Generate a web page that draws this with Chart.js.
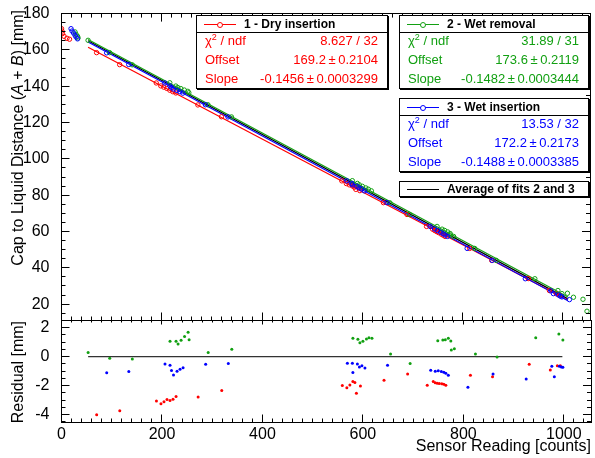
<!DOCTYPE html>
<html>
<head>
<meta charset="utf-8">
<script src="https://cdn.jsdelivr.net/npm/chart.js@4.4.1/dist/chart.umd.min.js"></script>
<style>
  body { margin: 0; background: #fff; }
  #wrap { position: relative; width: 595px; height: 458px; overflow: hidden; font-family: "Liberation Sans", Arial, sans-serif; }
  #wrap canvas { position: absolute; left: 0; top: 0; }
  .ytitle { position: absolute; font-size: 16px; line-height: 16px; white-space: nowrap; transform-origin: 0 0; transform: rotate(-90deg) translate(-100%, -50%); }
  .box { position: absolute; background: #fff; border: 1px solid #000; box-shadow: 1px 1px 0 #000; box-sizing: border-box; }
  .head { position: absolute; left: 0; right: 0; top: 0; height: 16px; line-height: 16px; font-weight: bold; font-size: 12px; color: #000; }
  .sep { border-bottom: 1px solid #000; }
  .head .txt { position: absolute; left: 47px; top: 0; white-space: nowrap; }
  .smp { position: absolute; left: 7px; width: 32px; top: 8px; height: 0; border-top: 1px solid; }
  .dot { position: absolute; left: 13px; top: -3.5px; width: 4px; height: 4px; border: 1px solid; border-radius: 50%; background: #fff; }
  .row { position: absolute; left: 8px; right: 9px; height: 18px; line-height: 18px; font-size: 13px; white-space: nowrap; }
  .row .v { position: absolute; right: 0; top: 0; }
  sup { font-size: 9px; vertical-align: 5px; line-height: 0; }
</style>
</head>
<body>
<div id="wrap">
  <canvas id="top" width="595" height="458"></canvas>
  <canvas id="res" width="595" height="458"></canvas>
  <div class="ytitle" style="left:18px; top:10px;">Cap to Liquid Distance (<i>A</i> + <i>B</i>) [mm]</div>
  <div class="ytitle" style="left:18px; top:321px;">Residual [mm]</div>
  <div id="legends"></div>
</div>
<script>
// ---- data ----
var xTicks = [0, 200, 400, 600, 800, 1000];
var yTicks = [20, 40, 60, 80, 100, 120, 140, 160, 180];
var resTicks = [-4, -2, 0, 2];

var seriesNames = ['1 - Dry insertion', '2 - Wet removal', '3 - Wet insertion'];
var seriesColors = ['#ff0000', '#12a012', '#0000ff'];
var chi2 = ['8.627 / 32', '31.89 / 31', '13.53 / 32'];
var offsetTxt = ['169.2\u2009±\u20090.2104', '173.6\u2009±\u20090.2119', '172.2\u2009±\u20090.2173'];
var slopeTxt = ['-0.1456\u2009±\u20090.0003299', '-0.1482\u2009±\u20090.0003444', '-0.1488\u2009±\u20090.0003385'];
var fitOffset = [169.2, 173.6, 172.2];
var fitSlope = [-0.1456, -0.1482, -0.1488];
var fitRange = [53, 1010];
var resLineRange = [53, 997];

// 1 - dry insertion (fitted points)
var redX = [70, 116, 189, 198, 204, 210, 216, 222, 228, 272, 319, 559, 568, 574, 580, 584, 587, 595, 642, 689,
  728, 740, 744, 748, 752, 757, 761, 765, 814, 858, 931, 973, 987, 993];
var redY = [158.5, 151.9, 141.8, 140.2, 139.5, 138.8, 137.8, 137.0, 136.3, 129.7, 123.2, 87.9, 86.4, 85.7, 85.1, 84.4, 83.2, 82.5, 75.9, 69.4,
  62.8, 61.3, 60.6, 60.0, 59.4, 58.6, 58.0, 57.3, 50.7, 44.1, 34.1, 27.5, 25.7, 24.8];
var redRes = [-4.02, -3.74, -3.06, -3.26, -3.12, -2.96, -3.03, -2.94, -2.76, -2.78, -2.34, -2.0, -2.14, -1.95, -1.72, -1.79, -2.53, -2.02, -1.63, -1.19,
  -1.97, -1.72, -1.81, -1.84, -1.86, -1.88, -1.9, -1.97, -1.29, -1.38, -0.52, -0.92, -0.62, -0.62];
var redOutX = [0, 1, 2, 5, 11, 16];
var redOutY = [171.7, 170.4, 169.0, 167.5, 166.4, 165.9];

// 2 - wet removal
var greenX = [53, 96, 141, 216, 228, 232, 238, 245, 252, 254, 292, 339, 580, 590, 594, 600, 607, 612, 618, 655,
  694, 749, 759, 764, 770, 775, 776, 782, 824, 867, 944, 990, 998];
var greenY = [165.3, 158.5, 151.8, 141.9, 140.1, 139.3, 138.7, 137.9, 137.2, 136.4, 129.8, 123.1, 88.0, 86.5, 85.7, 84.9, 84.0, 83.3, 82.4, 75.8,
  69.4, 62.8, 61.3, 60.6, 59.8, 58.9, 58.1, 57.3, 50.7, 44.1, 34.0, 27.5, 25.8];
var greenRes = [0.28, -0.11, -0.16, 1.06, 1.06, 0.88, 1.13, 1.4, 1.68, 1.17, 0.28, 0.51, 1.27, 1.2, 0.97, 1.06, 1.22, 1.31, 1.27, 0.19,
  -0.48, 1.1, 1.15, 1.17, 1.27, 1.08, 0.46, 0.55, 0.19, -0.02, 1.31, 1.57, 1.15];
var greenOutX = [27, 29, 32, 33, 1009, 1021, 1040, 1048];
var greenOutY = [169.9, 168.6, 167.5, 166.6, 26.0, 23.8, 22.7, 16.1];

// 3 - wet insertion
var blueX = [90, 134, 206, 216, 219, 223, 230, 236, 242, 287, 332, 569, 579, 580, 589, 593, 598, 604, 649, 735,
  744, 750, 756, 761, 765, 770, 809, 859, 925, 976, 981, 991, 995, 998];
var blueY = [158.4, 152.0, 141.8, 140.2, 139.4, 138.5, 137.7, 137.0, 136.2, 129.8, 123.1, 87.9, 86.5, 85.7, 84.9, 84.1, 83.5, 82.4, 75.9, 62.8,
  61.4, 60.5, 59.6, 58.8, 58.1, 57.3, 50.7, 44.1, 34.0, 27.3, 25.8, 25.1, 24.4, 24.0];
var blueRes = [-1.12, -1.03, -0.5, -0.6, -0.96, -1.26, -1.0, -0.87, -0.76, -0.52, -0.48, -0.46, -0.46, -1.1, -0.5, -0.71, -0.62, -0.78, -0.6, -0.94,
  -1.0, -0.98, -1.03, -1.08, -1.15, -1.29, -2.11, -1.19, -1.54, -0.66, -1.38, -0.66, -0.71, -0.73];
var blueOutX = [19, 21, 24, 27, 29, 32, 1013];
var blueOutY = [171.7, 170.4, 169.3, 168.1, 167.1, 166.1, 22.5];

var FONT = '"Liberation Sans", Arial, sans-serif';
Chart.defaults.font.family = FONT;
Chart.defaults.color = '#000';

function pts(xs, ys) {
  var out = [];
  for (var i = 0; i < xs.length; i++) out.push({x: xs[i], y: ys[i]});
  return out;
}

function fitLine(off, slope, range) {
  return range.map(function (x) { return {x: x, y: off + slope * x}; });
}

function eachTick(min, max, minor, major, cb) {
  var v = Math.ceil(min / minor - 1e-9) * minor;
  for (; v <= max + 1e-9; v += minor) {
    var r = v / major;
    cb(v, Math.abs(r - Math.round(r)) < 1e-6);
  }
}

// ROOT style frame with inward ticks on all four sides
var rootFrame = {
  id: 'rootFrame',
  afterDatasetsDraw: function (chart, args, o) {
    var ctx = chart.ctx, a = chart.chartArea;
    var sx = chart.scales.x, sy = chart.scales.y;
    ctx.save();
    ctx.strokeStyle = '#000';
    ctx.lineWidth = 1;
    ctx.beginPath();
    eachTick(sx.min, sx.max, o.xMinor, o.xMajor, function (v, big) {
      var p = Math.floor(sx.getPixelForValue(v)) + 0.5;
      var lb = big ? o.xBottom[0] : o.xBottom[1];
      var lt = big ? o.xTop[0] : o.xTop[1];
      if (lb) { ctx.moveTo(p, a.bottom); ctx.lineTo(p, a.bottom - lb); }
      if (lt) { ctx.moveTo(p, a.top); ctx.lineTo(p, a.top + lt); }
    });
    eachTick(sy.min, sy.max, o.yMinor, o.yMajor, function (v, big) {
      var p = Math.floor(sy.getPixelForValue(v)) + 0.5;
      var l = big ? o.yLen[0] : o.yLen[1];
      ctx.moveTo(a.left, p); ctx.lineTo(a.left + l, p);
      ctx.moveTo(a.right, p); ctx.lineTo(a.right - l, p);
    });
    ctx.stroke();
    ctx.strokeRect(Math.floor(a.left) + 0.5, Math.floor(a.top) + 0.5,
      Math.round(a.right - a.left), Math.round(a.bottom - a.top));
    ctx.restore();
  }
};

function tickSetter(list) {
  return function (s) { s.ticks = list.map(function (v) { return {value: v}; }); };
}
function plainLabel(v) { return String(v); }

// ---- top panel ----
var topSets = [];
var outX = [redOutX, greenOutX, blueOutX], outY = [redOutY, greenOutY, blueOutY];
var inX = [redX, greenX, blueX], inY = [redY, greenY, blueY];
// index 0 is painted last, so blue points come first
[2, 1, 0].forEach(function (k) {
  topSets.push({
    data: pts(inX[k], inY[k]).concat(pts(outX[k], outY[k])),
    borderColor: seriesColors[k], backgroundColor: 'rgba(0,0,0,0)',
    pointRadius: 2.2, borderWidth: 1, showLine: false
  });
});
[2, 1, 0].forEach(function (k) {
  topSets.push({
    data: fitLine(fitOffset[k], fitSlope[k], fitRange),
    borderColor: seriesColors[k], borderWidth: 1.2, pointRadius: 0, showLine: true
  });
});
topSets.push({
  data: fitLine((fitOffset[1] + fitOffset[2]) / 2, (fitSlope[1] + fitSlope[2]) / 2, fitRange),
  borderColor: '#000', borderWidth: 1.2, pointRadius: 0, showLine: true
});

new Chart(document.getElementById('top'), {
  type: 'scatter',
  data: {datasets: topSets},
  plugins: [rootFrame],
  options: {
    responsive: false, animation: false,
    layout: {padding: {top: 11.5, right: 2.5, bottom: 137.5, left: 0}},
    plugins: {
      legend: {display: false}, tooltip: {enabled: false},
      rootFrame: {xMinor: 20, xMajor: 200, yMinor: 5, yMajor: 20,
        xBottom: [8, 4], xTop: [8, 4], yLen: [8, 4]}
    },
    scales: {
      x: {type: 'linear', min: 0, max: 1054, display: false},
      y: {
        type: 'linear', min: 11, max: 180,
        afterBuildTicks: tickSetter(yTicks),
        afterFit: function (s) { s.width = 61.5; },
        grid: {display: false}, border: {display: false},
        ticks: {font: {size: 16}, color: '#000', padding: 4, callback: plainLabel}
      }
    }
  }
});

// ---- residual panel ----
var resSets = [];
var resY = [redRes, greenRes, blueRes];
[2, 1, 0].forEach(function (k) {
  resSets.push({
    data: pts(inX[k], resY[k]),
    borderColor: seriesColors[k], backgroundColor: seriesColors[k],
    pointRadius: 1.5, borderWidth: 0, showLine: false
  });
});
resSets.push({
  data: resLineRange.map(function (x) { return {x: x, y: 0}; }),
  borderColor: '#333', borderWidth: 1.4, pointRadius: 0, showLine: true
});

new Chart(document.getElementById('res'), {
  type: 'scatter',
  data: {datasets: resSets},
  plugins: [rootFrame],
  options: {
    responsive: false, animation: false,
    layout: {padding: {top: 320.5, right: 2.5, bottom: 0, left: 0}},
    plugins: {
      legend: {display: false}, tooltip: {enabled: false},
      rootFrame: {xMinor: 20, xMajor: 200, yMinor: 0.5, yMajor: 2,
        xBottom: [8, 4], xTop: [4, 2], yLen: [8, 4]}
    },
    scales: {
      x: {
        type: 'linear', min: 0, max: 1054,
        afterBuildTicks: tickSetter(xTicks),
        afterFit: function (s) { s.height = 35.5; },
        grid: {display: false}, border: {display: false},
        ticks: {font: {size: 16}, color: '#000', padding: -6, autoSkip: false, maxRotation: 0, callback: plainLabel},
        title: {display: true, text: 'Sensor Reading [counts]', align: 'end',
          font: {size: 16}, color: '#000', padding: {top: 0, bottom: 2}}
      },
      y: {
        type: 'linear', min: -4.55, max: 2.5,
        afterBuildTicks: tickSetter(resTicks),
        afterFit: function (s) { s.width = 61.5; },
        grid: {display: false}, border: {display: false},
        ticks: {font: {size: 16}, color: '#000', padding: 4, callback: plainLabel}
      }
    }
  }
});

// ---- stat boxes (HTML so the text stays text) ----
var boxPos = [[196, 15], [399, 15], [399, 98]];
var html = '';
for (var k = 0; k < 3; k++) {
  var c = seriesColors[k];
  html += '<div class="box" style="left:' + boxPos[k][0] + 'px;top:' + boxPos[k][1] + 'px;width:' + (k ? 190 : 192) + 'px;height:74px;">' +
    '<div class="head sep"><div class="smp" style="border-color:' + c + '"><div class="dot" style="border-color:' + c + '"></div></div>' +
    '<div class="txt">' + seriesNames[k] + '</div></div>' +
    '<div class="row" style="top:16px;color:' + c + '">χ<sup>2</sup> / ndf<span class="v">' + chi2[k] + '</span></div>' +
    '<div class="row" style="top:35px;color:' + c + '">Offset<span class="v">' + offsetTxt[k] + '</span></div>' +
    '<div class="row" style="top:54px;color:' + c + '">Slope<span class="v">' + slopeTxt[k] + '</span></div>' +
    '</div>';
}
html += '<div class="box" style="left:399px;top:181px;width:190px;height:16px;">' +
  '<div class="head" style="top:-1px"><div class="smp" style="border-color:#000"></div>' +
  '<div class="txt">Average of fits 2 and 3</div></div></div>';
document.getElementById('legends').innerHTML = html;
</script>
</body>
</html>
